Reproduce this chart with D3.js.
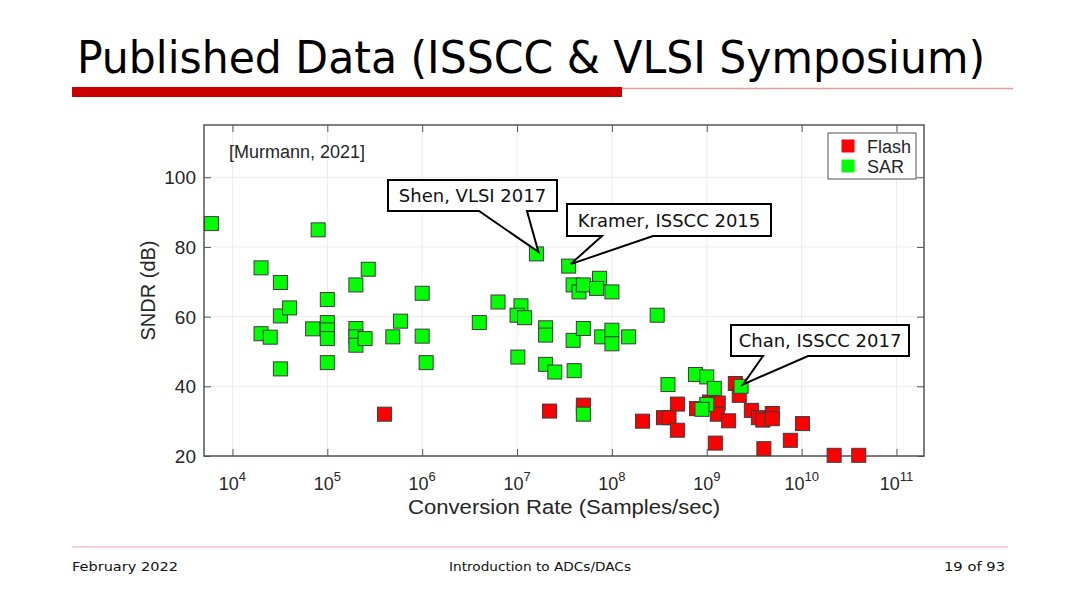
<!DOCTYPE html>
<html>
<head>
<meta charset="utf-8">
<script src="https://cdn.jsdelivr.net/npm/d3@7"></script>
<style>
  html, body { margin: 0; padding: 0; background: #fff; }
  svg { display: block; }
</style>
</head>
<body>
<svg id="chart" width="1080" height="607"></svg>
<script>
// ---------------- data ----------------
const titleText = "Published Data (ISSCC & VLSI Symposium)";
const footerLeft = "February 2022";
const footerCenter = "Introduction to ADCs/DACs";
const footerRight = "19 of 93";
const xLabel = "Conversion Rate (Samples/sec)";
const yLabel = "SNDR (dB)";
const sourceNote = "[Murmann, 2021]";
const seriesNames = ["Flash", "SAR"];
const seriesColors = ["#ff0000", "#00ff00"];

const xTickExponents = [4, 5, 6, 7, 8, 9, 10, 11];
const yTicks = [20, 40, 60, 80, 100];

const flashRate = [4.0e5, 2.2e7, 5.0e7, 2.1e8, 3.5e8, 4.0e8, 4.9e8, 4.9e8, 7.8e8, 1.07e9,
  1.32e9, 1.29e9, 1.23e9, 1.7e9, 2.0e9, 2.2e9, 2.95e9, 3.5e9, 3.9e9, 4.9e9,
  4.9e9, 4.0e9, 7.6e9, 1.02e10, 2.2e10, 4.0e10];
const flashSNDR = [32.0, 32.9, 34.6, 30.0, 31.0, 31.0, 34.9, 27.4, 33.6, 35.5,
  35.2, 32.0, 23.7, 30.1, 40.8, 37.4, 33.1, 31.0, 30.3, 32.2,
  30.7, 22.1, 24.5, 29.3, 20.2, 20.2];

const sarRate = [6.0e3, 2.0e4, 2.0e4, 2.5e4, 3.2e4, 3.2e4, 4.0e4, 3.2e4, 8.0e4, 7.0e4,
  1.0e5, 1.0e5, 1.0e5, 1.0e5, 1.0e5, 2.0e5, 2.7e5, 2.0e5, 2.0e5, 2.0e5,
  2.5e5, 4.9e5, 5.9e5, 1.0e6, 1.0e6, 1.1e6, 4.0e6, 6.3e6, 1.1e7, 1.0e7,
  1.2e7, 1.02e7, 1.6e7, 2.0e7, 2.0e7, 2.0e7, 2.5e7, 3.5e7, 3.9e7, 4.5e7,
  5.0e7, 7.4e7, 6.9e7, 1.0e8, 3.9e7, 5.0e7, 4.0e7, 7.8e7, 1.0e8, 1.0e8,
  1.5e8, 3.0e8, 5.0e7, 3.9e8, 7.6e8, 1.0e9, 1.2e9, 1.0e9, 8.9e8, 2.3e9];
const sarSNDR = [86.7, 74.0, 55.1, 54.1, 69.8, 60.2, 62.5, 45.0, 84.9, 56.5,
  64.9, 58.3, 56.2, 53.7, 46.8, 69.1, 73.6, 56.6, 54.2, 51.8,
  53.7, 54.2, 58.7, 66.7, 54.4, 46.8, 58.3, 64.2, 63.1, 60.4,
  59.7, 48.4, 78.0, 56.8, 54.7, 46.3, 44.1, 74.5, 69.1, 67.1,
  69.1, 71.0, 68.1, 67.1, 53.2, 56.6, 44.5, 54.2, 56.1, 52.2,
  54.2, 60.4, 32.0, 40.5, 43.4, 42.7, 39.4, 34.8, 33.4, 40.0];

const calloutLabels = ["Shen, VLSI 2017", "Kramer, ISSCC 2015", "Chan, ISSCC 2017"];
const calloutRate = [1.6e7, 3.5e7, 2.3e9];
const calloutSNDR = [78.0, 74.5, 40.0];

// ---------------- layout ----------------
const svg = d3.select("#chart");
const L = 204, R = 924, T = 125, B = 456;

const x = d3.scaleLog().domain([Math.pow(10, 3.7), Math.pow(10, 11.29)]).range([L, R]);
const y = d3.scaleLinear().domain([20, 115]).range([B, T]);
const xTicks = xTickExponents.map(e => Math.pow(10, e));

// Title
svg.append("text")
  .attr("x", 77).attr("y", 73)
  .attr("font-family", "'DejaVu Sans Condensed', 'DejaVu Sans', sans-serif")
  .attr("font-size", 44)
  .attr("fill", "#000")
  .attr("textLength", 908).attr("lengthAdjust", "spacingAndGlyphs")
  .text(titleText);

// Title underline
svg.append("line").attr("x1", 620).attr("x2", 1013).attr("y1", 88.5).attr("y2", 88.5)
  .attr("stroke", "#e79a9a").attr("stroke-width", 1.5);
svg.append("rect").attr("x", 72).attr("y", 87).attr("width", 550).attr("height", 10)
  .attr("fill", "#cc0000");

// Footer
svg.append("line").attr("x1", 72).attr("x2", 1008).attr("y1", 547).attr("y2", 547)
  .attr("stroke", "#f2c4c4").attr("stroke-width", 1.5);
const footFont = "'DejaVu Sans Condensed', 'DejaVu Sans', sans-serif";
svg.append("text").attr("x", 72).attr("y", 571).attr("font-family", footFont)
  .attr("font-size", 13).attr("fill", "#111")
  .attr("textLength", 106).attr("lengthAdjust", "spacingAndGlyphs").text(footerLeft);
svg.append("text").attr("x", 540).attr("y", 571).attr("font-family", footFont)
  .attr("font-size", 13).attr("fill", "#111").attr("text-anchor", "middle")
  .attr("textLength", 182).attr("lengthAdjust", "spacingAndGlyphs").text(footerCenter);
svg.append("text").attr("x", 1005).attr("y", 571).attr("font-family", footFont)
  .attr("font-size", 13).attr("fill", "#111").attr("text-anchor", "end")
  .attr("textLength", 61).attr("lengthAdjust", "spacingAndGlyphs").text(footerRight);

// Grid
const grid = svg.append("g");
grid.selectAll("line.gx").data(xTicks).enter().append("line")
  .attr("x1", d => x(d)).attr("x2", d => x(d)).attr("y1", T).attr("y2", B)
  .attr("stroke", "#ececec").attr("stroke-width", 1);
grid.selectAll("line.gy").data(yTicks).enter().append("line")
  .attr("x1", L).attr("x2", R).attr("y1", d => y(d)).attr("y2", d => y(d))
  .attr("stroke", "#ececec").attr("stroke-width", 1);

const axisFont = "'Liberation Sans', Arial, sans-serif";
// Axes (ticks inward)
svg.append("g").attr("transform", `translate(0,${B})`)
  .call(d3.axisBottom(x).tickValues(xTicks).tickSize(-7).tickFormat(() => ""));
svg.append("g").attr("transform", `translate(0,${T})`)
  .call(d3.axisTop(x).tickValues(xTicks).tickSize(-7).tickFormat(() => ""));
const gy = svg.append("g").attr("transform", `translate(${L},0)`)
  .call(d3.axisLeft(y).tickValues(yTicks).tickSize(-7).tickPadding(8));
svg.append("g").attr("transform", `translate(${R},0)`)
  .call(d3.axisRight(y).tickValues(yTicks).tickSize(-7).tickFormat(() => ""));
svg.selectAll(".domain").remove();
svg.selectAll(".tick line").attr("stroke", "#555").attr("stroke-width", 1);

gy.selectAll(".tick text")
  .attr("font-family", axisFont).attr("font-size", 19).attr("fill", "#262626")
  .attr("dy", "0.35em");

// x tick labels with superscripts
const xl = svg.append("g");
xTickExponents.forEach((e, i) => {
  const t = xl.append("text")
    .attr("x", x(xTicks[i])).attr("y", 490)
    .attr("text-anchor", "middle")
    .attr("font-family", axisFont).attr("font-size", 18).attr("fill", "#262626");
  t.append("tspan").text("10");
  t.append("tspan").attr("dy", -9).attr("font-size", 13).text(e);
});

// Axis labels
svg.append("text").attr("x", (L + R) / 2).attr("y", 514)
  .attr("text-anchor", "middle").attr("font-family", axisFont)
  .attr("font-size", 20).attr("fill", "#262626")
  .attr("textLength", 312).attr("lengthAdjust", "spacingAndGlyphs")
  .text(xLabel);
svg.append("text")
  .attr("transform", `translate(155,${(T + B) / 2}) rotate(-90)`)
  .attr("text-anchor", "middle").attr("font-family", axisFont)
  .attr("font-size", 20).attr("fill", "#262626")
  .text(yLabel);

// Frame
svg.append("rect").attr("x", L).attr("y", T).attr("width", R - L).attr("height", B - T)
  .attr("fill", "none").attr("stroke", "#555").attr("stroke-width", 1.5);

// Source note
svg.append("text").attr("x", 229).attr("y", 158)
  .attr("font-family", axisFont).attr("font-size", 18).attr("fill", "#262626")
  .text(sourceNote);

// Markers
const ms = 14;
const flashData = flashRate.map((r, i) => ({ r, s: flashSNDR[i] }));
const sarData = sarRate.map((r, i) => ({ r, s: sarSNDR[i] }));
const marks = svg.append("g");
[[flashData, seriesColors[0]], [sarData, seriesColors[1]]].forEach(([data, col]) => {
  marks.append("g").selectAll("rect").data(data).enter().append("rect")
    .attr("x", d => x(d.r) - ms / 2).attr("y", d => y(d.s) - ms / 2)
    .attr("width", ms).attr("height", ms)
    .attr("fill", col).attr("stroke", "#3c3c3c").attr("stroke-width", 1);
});

// Callouts (box geometry is layout)
const boxes = [
  { x0: 388, x1: 557, y0: 180, y1: 211, b0: 479, b1: 527 },
  { x0: 567, x1: 771, y0: 204, y1: 236, b0: 602, b1: 653 },
  { x0: 731, x1: 909, y0: 325, y1: 356, b0: 763, b1: 808 }
];
const cg = svg.append("g");
calloutLabels.forEach((lab, i) => {
  const b = boxes[i];
  const tx = x(calloutRate[i]) + 2, ty = y(calloutSNDR[i]) - 2;
  const path = `M${b.x0},${b.y0} L${b.x1},${b.y0} L${b.x1},${b.y1} L${b.b1},${b.y1} L${tx},${ty} L${b.b0},${b.y1} L${b.x0},${b.y1} Z`;
  cg.append("path").attr("d", path).attr("fill", "#fff")
    .attr("stroke", "#000").attr("stroke-width", 2).attr("stroke-linejoin", "miter");
  cg.append("text").attr("x", (b.x0 + b.x1) / 2).attr("y", (b.y0 + b.y1) / 2 + 6.5)
    .attr("text-anchor", "middle")
    .attr("font-family", "'DejaVu Sans', Verdana, sans-serif")
    .attr("font-size", 18).attr("fill", "#111").text(lab);
});

// Legend
const lg = svg.append("g");
lg.append("rect").attr("x", 828).attr("y", 133).attr("width", 88).attr("height", 46)
  .attr("fill", "#fff").attr("stroke", "#555").attr("stroke-width", 1);
seriesNames.forEach((n, i) => {
  const cy = 146 + i * 20;
  lg.append("rect").attr("x", 848 - 6.5).attr("y", cy - 6.5).attr("width", 13).attr("height", 13)
    .attr("fill", seriesColors[i]);
  lg.append("text").attr("x", 867).attr("y", cy + 6.5)
    .attr("font-family", axisFont).attr("font-size", 18).attr("fill", "#262626").text(n);
});
</script>
</body>
</html>
